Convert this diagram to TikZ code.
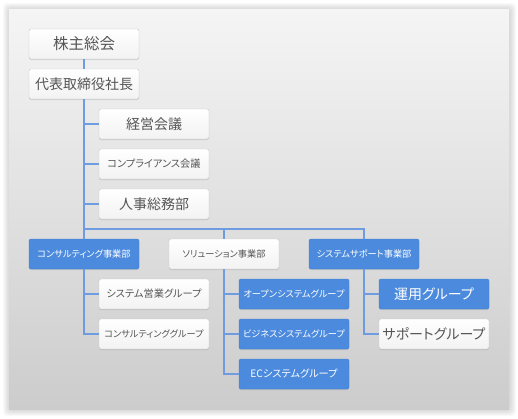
\documentclass[tikz,border=0pt]{standalone}
\usepackage{fontspec}
\setmainfont{Noto Sans CJK JP}[RawFeature={+palt}]
\usepackage{tikz}
\usetikzlibrary{shadows}

\definecolor{linkblue}{HTML}{6F9BE0}
\definecolor{boxblue}{HTML}{4C8ADE}
\definecolor{boxblueline}{HTML}{417DCE}
\definecolor{boxgray}{HTML}{C8C8C8}
\definecolor{textgray}{HTML}{555555}

\newcommand{\hugetext}{\fontsize{15.5}{17}\selectfont}
\newcommand{\bigtext}{\fontsize{14}{16}\selectfont}
\newcommand{\smalltext}{\fontsize{10.2}{12}\selectfont}
\newcommand{\tinytext}{\fontsize{9.2}{11}\selectfont}

\tikzset{
	orgbox/.style={rounded corners=2pt, minimum width=110pt, minimum height=30pt, inner sep=0pt,
		drop shadow={shadow xshift=0pt, shadow yshift=-1pt, opacity=0.25}},
	wbox/.style={orgbox, draw=boxgray, top color=white, bottom color=black!5, text=textgray},
	bbox/.style={orgbox, draw=boxblueline, fill=boxblue, text=white},
	link/.style={draw=linkblue, line width=1.6pt}
}

\begin{document}
\begin{tikzpicture}[x=1pt, y=-1pt]
	\useasboundingbox (0,0) rectangle (518,418);
	\foreach \s in {1,...,7}
		\fill[black, opacity=0.022, rounded corners=4pt] (9-\s+1,9-\s+1) rectangle (509+\s,409+\s);	% panel shadow
	\shade[top color=black!4, bottom color=black!20] (9,9) rectangle (509,409);	% panel

	\node[wbox, font=\hugetext] (kabu) at (84,44) {株主総会};					% top
	\node[wbox, font=\bigtext] (pres) at (84,84) {代表取締役社長};

	\node[wbox, font=\bigtext] (keiei) at (154,124) {経営会議};				% staff
	\node[wbox, font=\smalltext] (comp) at (154,164) {コンプライアンス会議};
	\node[wbox, font=\bigtext] (jinji) at (154,204) {人事総務部};

	\coordinate (bus) at (0,229);

	\node[bbox, font=\tinytext] (consul) at (84,254) {コンサルティング事業部};		% divisions
	\node[wbox, font=\tinytext] (sol) at (224,254) {ソリューション事業部};
	\node[bbox, font=\tinytext] (supp) at (364,254) {システムサポート事業部};

	\node[wbox, font=\smalltext] (sysei) at (154,294) {システム営業グループ};		% groups
	\node[wbox, font=\tinytext] (congr) at (154,334) {コンサルティンググループ};
	\node[bbox, font=\tinytext] (open) at (294,294) {オープンシステムグループ};
	\node[bbox, font=\tinytext] (biz) at (294,334) {ビジネスシステムグループ};
	\node[bbox, font=\smalltext] (ec) at (294,374) {ECシステムグループ};
	\node[bbox, font=\bigtext] (unyo) at (434,294) {運用グループ};
	\node[wbox, font=\bigtext] (suppgr) at (434,334) {サポートグループ};

	\draw[link] (kabu) -- (pres);											% connectors
	\draw[link] (pres.south) |- (keiei.west);
	\draw[link] (pres.south) |- (comp.west);
	\draw[link] (pres.south) |- (jinji.west);
	\draw[link] (pres.south) -- (pres.south |- bus) -- (supp.north |- bus) -- (supp.north);
	\draw[link] (consul.north) -- (consul.north |- bus);
	\draw[link] (sol.north) -- (sol.north |- bus);
	\draw[link] (consul.south) |- (sysei.west);
	\draw[link] (consul.south) |- (congr.west);
	\draw[link] (sol.south) |- (open.west);
	\draw[link] (sol.south) |- (biz.west);
	\draw[link] (sol.south) |- (ec.west);
	\draw[link] (supp.south) |- (unyo.west);
	\draw[link] (supp.south) |- (suppgr.west);
\end{tikzpicture}
\end{document}
